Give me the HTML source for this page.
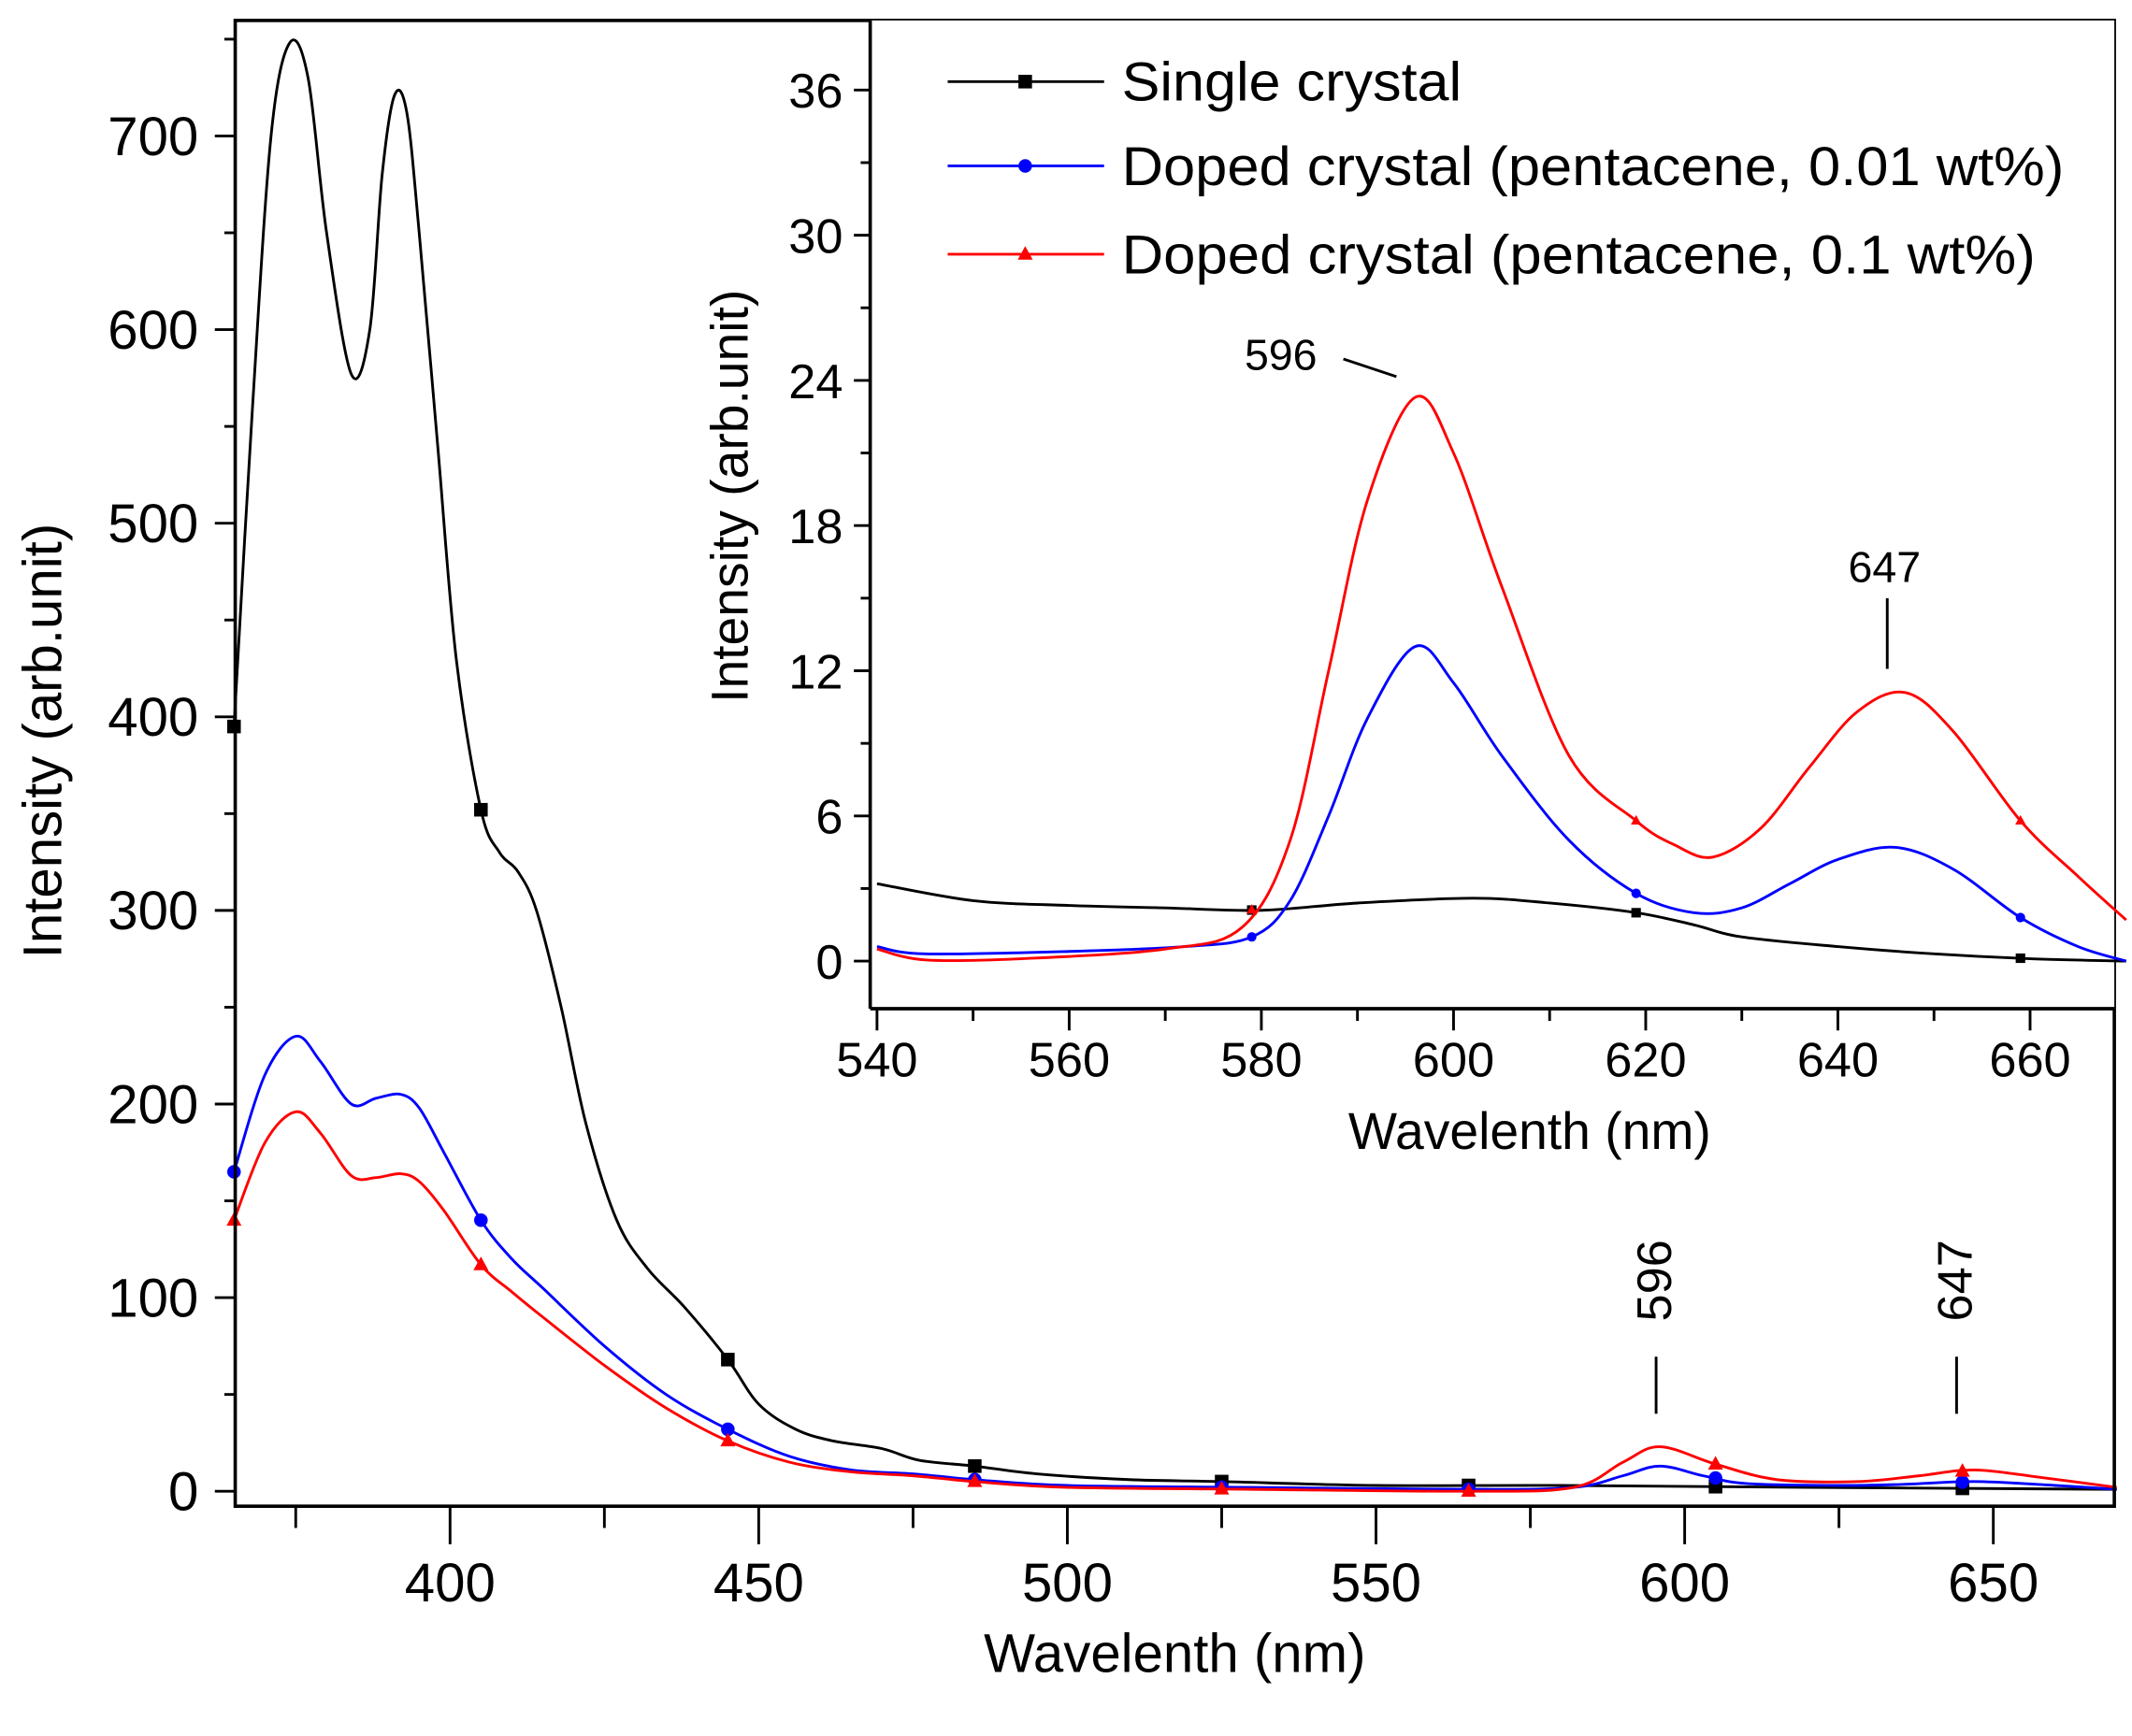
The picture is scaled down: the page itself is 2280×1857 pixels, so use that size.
<!DOCTYPE html>
<html><head><meta charset="utf-8"><style>
html,body{margin:0;padding:0;background:#fff;}
svg{display:block;font-family:"Liberation Sans",Arial,sans-serif;}
</style></head><body>
<svg id="s" width="2280" height="1857" viewBox="0 0 1568 1277" xmlns="http://www.w3.org/2000/svg">
<rect width="1568" height="1277" fill="#fff"/>
<g id="main"></g>
<rect x="640" y="15" width="915" height="727" fill="#fff"/>
<g id="inset"></g>
</svg>
<script>
const NS="http://www.w3.org/2000/svg";
function el(p,t,a,txt){const e=document.createElementNS(NS,t);for(const k in a)e.setAttribute(k,a[k]);if(txt!==undefined)e.textContent=txt;p.appendChild(e);return e;}
function path(pts){
 let d="M"+pts[0][0].toFixed(2)+","+pts[0][1].toFixed(2);
 for(let i=0;i<pts.length-1;i++){
  const p0=pts[Math.max(0,i-1)],p1=pts[i],p2=pts[i+1],p3=pts[Math.min(pts.length-1,i+2)];
  const c1=[p1[0]+(p2[0]-p0[0])/6,p1[1]+(p2[1]-p0[1])/6],c2=[p2[0]-(p3[0]-p1[0])/6,p2[1]-(p3[1]-p1[1])/6];
  d+="C"+c1.map(v=>v.toFixed(2))+" "+c2.map(v=>v.toFixed(2))+" "+p2[0].toFixed(2)+","+p2[1].toFixed(2);
 }return d;}
function interp(data,x){for(let i=0;i<data.length-1;i++){if(x>=data[i][0]&&x<=data[i+1][0]){const t=(x-data[i][0])/(data[i+1][0]-data[i][0]);return data[i][1]+t*(data[i+1][1]-data[i][1]);}}return data[data.length-1][1];}
function marker(g,type,x,y,c,r){
 if(type=="sq")el(g,"rect",{x:x-r,y:y-r,width:2*r,height:2*r,fill:c});
 else if(type=="ci")el(g,"circle",{cx:x,cy:y,r:r,fill:c});
 else el(g,"polygon",{points:`${x},${y-r*1.2} ${x-r*1.1},${y+r*0.8} ${x+r*1.1},${y+r*0.8}`,fill:c});
}
const M=document.getElementById("main");
const mx=v=>331+(v-400)*4.54, my=v=>1097-v*1.4243;
const blk=[[365,395],[368,560],[371,700],[374,748],[377,730],[380,650],[384,577],[387,600],[389,680],[391,721],[393,712],[395,650],[398,540],[401,430],[405,352],[408,330],[411,320],[414,300],[418,250],[422,190],[427,140],[432,115],[438,95],[445,68],[450,45],[456,32],[462,26],[470,22],[476,16],[485,13],[495,9],[510,6],[525,5],[550,3],[580,3],[620,2],[670,1]];
const blu=[[365,165],[370,215],[375,235],[379,222],[384,200],[388,203],[392,205],[395,198],[399,175],[405,140],[410,120],[415,105],[425,75],[435,50],[445,32],[455,18],[465,11],[475,9],[485,6],[500,3],[530,2],[565,1],[582,2],[590,8],[596,13],[603,8],[610,4],[625,3],[635,3.5],[647,5],[660,3],[670,1]];
const red=[[365,140],[370,180],[375,196],[379,185],[384,163],[388,162],[392,164],[395,160],[399,145],[405,117],[410,103],[415,90],[425,65],[435,43],[445,26],[455,15],[465,10],[475,8],[485,5],[500,2],[530,1],[565,0],[582,2],[590,15],[596,23],[605,14],[615,6],[628,5],[638,8],[647,11],[658,7],[670,2]];
const mk=[365,405,445,485,525,565,605,645];
[[blk,"#000","sq"],[blu,"#0000ff","ci"],[red,"#ff0000","tr"]].forEach(([d,c,t])=>{
 el(M,"path",{d:path(d.map(p=>[mx(p[0]),my(p[1])])),fill:"none",stroke:c,"stroke-width":2});
 mk.forEach(w=>marker(M,t,mx(w),my(interp(d,w)),c,5));
});
el(M,"rect",{x:173,y:15,width:1382,height:1093,fill:"none",stroke:"#000","stroke-width":2.5});
for(let w=375;w<=670;w+=25){const X=mx(w);const maj=(w%50==0);el(M,"line",{x1:X,y1:1108,x2:X,y2:maj?1136:1124,stroke:"#000","stroke-width":2});
 if(maj)el(M,"text",{x:X,y:1178,"font-size":40,"text-anchor":"middle"},w);}
for(let v=0;v<=750;v+=50){const Y=my(v);const maj=(v%100==0);el(M,"line",{x1:173,y1:Y,x2:maj?158:165,y2:Y,stroke:"#000","stroke-width":2});
 if(maj)el(M,"text",{x:146,y:Y+14,"font-size":40,"text-anchor":"end"},v);}
el(M,"text",{x:864,y:1230,"font-size":40,"text-anchor":"middle"},"Wavelenth (nm)");
el(M,"text",{x:0,y:0,"font-size":40,"text-anchor":"middle",transform:"translate(45,545) rotate(-90)"},"Intensity (arb.unit)");
el(M,"text",{x:0,y:0,"font-size":36,"text-anchor":"middle",transform:"translate(1229,942) rotate(-90)"},"596");
el(M,"text",{x:0,y:0,"font-size":36,"text-anchor":"middle",transform:"translate(1450,942) rotate(-90)"},"647");
el(M,"line",{x1:1218,y1:998,x2:1218,y2:1040,stroke:"#000","stroke-width":2});
el(M,"line",{x1:1439,y1:998,x2:1439,y2:1040,stroke:"#000","stroke-width":2});
const I=document.getElementById("inset");
const ix=v=>645+(v-540)*7.067, iy=v=>707-v*17.8;
const ib=[[540,3.2],[550,2.5],[560,2.3],[570,2.2],[580,2.1],[590,2.4],[602,2.6],[610,2.4],[619,2.0],[625,1.5],[630,1.0],[640,0.6],[650,0.3],[660,0.1],[670,0]];
const iu=[[540,0.6],[545,0.3],[560,0.4],[572,0.6],[579,1.0],[583,2.5],[587,6],[591,10],[596,13],[600,11.5],[605,8.5],[612,5],[619,2.8],[625,2.0],[630,2.2],[635,3.2],[640,4.2],[646,4.7],[652,3.8],[659,1.8],[665,0.6],[670,0]];
const ir=[[540,0.5],[545,0.05],[555,0.1],[570,0.5],[578,1.4],[583,5],[587,12],[591,19],[596,23.3],[600,21],[605,15.5],[612,8.5],[619,5.8],[623,4.8],[627,4.3],[632,5.5],[637,8],[642,10.3],[647,11.1],[652,9.5],[659,5.8],[665,3.5],[670,1.7]];
const imk=[579,619,659];
[[ib,"#000","sq"],[iu,"#0000ff","ci"],[ir,"#ff0000","tr"]].forEach(([d,c,t])=>{
 el(I,"path",{d:path(d.map(p=>[ix(p[0]),iy(p[1])])),fill:"none",stroke:c,"stroke-width":2});
 imk.forEach(w=>marker(I,t,ix(w),iy(interp(d,w)),c,3.5));
});
el(I,"line",{x1:640,y1:15,x2:640,y2:742,stroke:"#000","stroke-width":2.5});
el(I,"line",{x1:640,y1:742,x2:1555,y2:742,stroke:"#000","stroke-width":2.5});
for(let w=540;w<=660;w+=10){const X=ix(w);const maj=(w%20==0);el(I,"line",{x1:X,y1:742,x2:X,y2:maj?758:751,stroke:"#000","stroke-width":2});
 if(maj)el(I,"text",{x:X,y:792,"font-size":36,"text-anchor":"middle"},w);}
for(let v=0;v<=36;v+=3){const Y=iy(v);const maj=(v%6==0);el(I,"line",{x1:640,y1:Y,x2:maj?628:633,y2:Y,stroke:"#000","stroke-width":2});
 if(maj)el(I,"text",{x:620,y:Y+13,"font-size":36,"text-anchor":"end"},v);}
el(I,"text",{x:1125,y:845,"font-size":38,"text-anchor":"middle"},"Wavelenth (nm)");
el(I,"text",{x:0,y:0,"font-size":38,"text-anchor":"middle",transform:"translate(550,365) rotate(-90)"},"Intensity (arb.unit)");
el(I,"text",{x:942,y:272,"font-size":32,"text-anchor":"middle"},"596");
el(I,"line",{x1:988,y1:264,x2:1027,y2:277,stroke:"#000","stroke-width":2});
el(I,"text",{x:1386,y:428,"font-size":32,"text-anchor":"middle"},"647");
el(I,"line",{x1:1388,y1:440,x2:1388,y2:492,stroke:"#000","stroke-width":2});
[["Single crystal","#000","sq",60],["Doped crystal (pentacene, 0.01 wt%)","#0000ff","ci",122],["Doped crystal (pentacene, 0.1 wt%)","#ff0000","tr",187]].forEach(([t,c,m,y])=>{
 el(I,"line",{x1:697,y1:y,x2:812,y2:y,stroke:c,"stroke-width":2});
 marker(I,m,754,y,c,5);
 el(I,"text",{x:825,y:y+14,"font-size":40,textLength:t.length>20?693:250,lengthAdjust:"spacingAndGlyphs"},t);
});
document.querySelectorAll("#inset text").forEach(e=>{if(e.textContent.startsWith("Doped crystal (pentacene, 0.1"))e.setAttribute("textLength",672);});
</script>
</body></html>
